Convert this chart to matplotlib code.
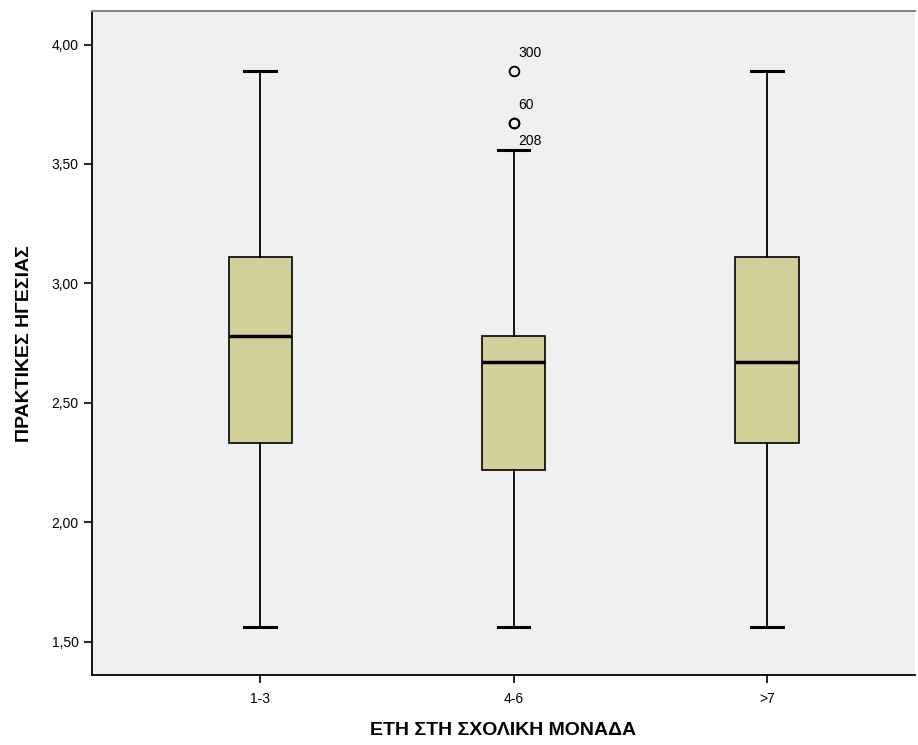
import matplotlib
matplotlib.use("Agg")
import matplotlib.pyplot as plt
from matplotlib.ticker import FuncFormatter

plt.rcParams['font.family'] = ['Liberation Sans', 'DejaVu Sans']

categories = ["1-3", "4-6", ">7"]
whislo = [1.56, 1.56, 1.56]
q1 = [2.33, 2.22, 2.33]
med = [2.78, 2.67, 2.67]
q3 = [3.11, 2.78, 3.11]
whishi = [3.89, 3.56, 3.89]
outliers = [[], [3.89, 3.67, 3.67], []]
outlier_labels = [[], ["300", "60", "208"], []]
yticks = [1.5, 2.0, 2.5, 3.0, 3.5, 4.0]

fig = plt.figure(figsize=(9.18, 7.45), dpi=100)
ax = fig.add_axes([0.1, 0.094, 0.897, 0.891])
ax.set_facecolor('#F0F0F0')

stats = []
for i, c in enumerate(categories):
    stats.append(dict(label=c, whislo=whislo[i], q1=q1[i], med=med[i], q3=q3[i],
                      whishi=whishi[i], fliers=outliers[i]))

ax.bxp(stats, positions=range(len(categories)), widths=0.25, patch_artist=True,
       showfliers=True,
       boxprops=dict(facecolor='#D4D09A', edgecolor='black', linewidth=1.2),
       medianprops=dict(color='black', linewidth=2.5),
       whiskerprops=dict(color='black', linewidth=1.3),
       capprops=dict(color='black', linewidth=2.2),
       capwidths=0.125,
       flierprops=dict(marker='o', markerfacecolor='none', markeredgecolor='black',
                       markersize=7, markeredgewidth=1.3))

offsets = [(0.02, 0.075), (0.02, 0.075), (0.02, -0.075)]
for i, (vals, labs) in enumerate(zip(outliers, outlier_labels)):
    for k, (v, l) in enumerate(zip(vals, labs)):
        dx, dy = offsets[k]
        ax.text(i + dx, v + dy, l, fontsize=10, ha='left', va='center')

ax.set_xlim(-0.665, 2.585)
ax.set_ylim(1.36, 4.14)
ax.set_yticks(yticks)
ax.yaxis.set_major_formatter(FuncFormatter(lambda v, p: f"{v:.2f}".replace('.', ',')))
ax.set_xticks(range(len(categories)))
ax.set_xticklabels(categories)
ax.tick_params(axis='both', labelsize=10, length=6, width=1.2, direction='out')
ax.tick_params(axis='x', pad=6)

ax.spines['right'].set_visible(False)
ax.spines['top'].set_color('#888888')
ax.spines['top'].set_linewidth(1.5)
ax.spines['left'].set_linewidth(1.3)
ax.spines['bottom'].set_linewidth(1.3)

ax.set_ylabel("ΠΡΑΚΤΙΚΕΣ ΗΓΕΣΙΑΣ", fontsize=14, fontweight='bold', labelpad=13)
ax.set_xlabel("ΕΤΗ ΣΤΗ ΣΧΟΛΙΚΗ ΜΟΝΑΔΑ", fontsize=14, fontweight='bold', labelpad=12)

fig.savefig("out.png", dpi=100, facecolor='white')
